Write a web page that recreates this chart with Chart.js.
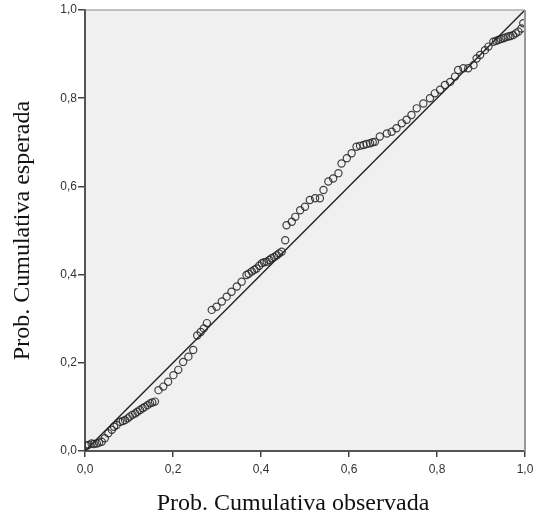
<!DOCTYPE html>
<html>
<head>
<meta charset="utf-8">
<script src="https://cdn.jsdelivr.net/npm/chart.js@4"></script>
<style>
  html, body { margin: 0; padding: 0; background: #fff; }
</style>
</head>
<body>
<canvas id="chart" width="542" height="520"></canvas>
<script>
// observed cumulative probability (x) and expected cumulative probability (y)
var observed = [
    0.004, 0.008, 0.015, 0.020, 0.027, 0.032, 0.038, 0.045, 0.053, 0.061,
    0.066, 0.072, 0.080, 0.086, 0.091, 0.097, 0.102, 0.108, 0.114, 0.119,
    0.125, 0.131, 0.136, 0.142, 0.148, 0.153, 0.159, 0.167, 0.178, 0.189,
    0.201, 0.212, 0.223, 0.235, 0.246, 0.255, 0.263, 0.270, 0.277, 0.288,
    0.299, 0.311, 0.322, 0.333, 0.345, 0.356, 0.367, 0.372, 0.379, 0.385,
    0.390, 0.396, 0.402, 0.407, 0.413, 0.419, 0.424, 0.430, 0.436, 0.441,
    0.447, 0.455, 0.458, 0.470, 0.478, 0.489, 0.500, 0.511, 0.523, 0.534,
    0.542, 0.553, 0.564, 0.576, 0.583, 0.595, 0.606, 0.617, 0.625, 0.633,
    0.640, 0.648, 0.654, 0.659, 0.670, 0.686, 0.697, 0.708, 0.720, 0.731,
    0.742, 0.754, 0.769, 0.784, 0.795, 0.807, 0.818, 0.830, 0.841, 0.848,
    0.860, 0.871, 0.883, 0.890, 0.898, 0.909, 0.917, 0.928, 0.934, 0.939,
    0.945, 0.951, 0.956, 0.962, 0.967, 0.973, 0.979, 0.985, 0.992, 0.996
];
var expected = [
    0.012, 0.014, 0.017, 0.016, 0.017, 0.019, 0.021, 0.029, 0.040, 0.048,
    0.055, 0.059, 0.066, 0.068, 0.070, 0.074, 0.078, 0.082, 0.085, 0.089,
    0.093, 0.097, 0.100, 0.104, 0.108, 0.110, 0.112, 0.138, 0.146, 0.157,
    0.172, 0.184, 0.202, 0.214, 0.229, 0.262, 0.270, 0.278, 0.290, 0.320,
    0.327, 0.339, 0.350, 0.361, 0.373, 0.384, 0.399, 0.402, 0.407, 0.411,
    0.414, 0.420, 0.426, 0.428, 0.429, 0.433, 0.437, 0.440, 0.444, 0.448,
    0.452, 0.478, 0.512, 0.520, 0.531, 0.546, 0.554, 0.569, 0.573, 0.573,
    0.592, 0.611, 0.618, 0.630, 0.652, 0.664, 0.675, 0.690, 0.692, 0.694,
    0.696, 0.698, 0.700, 0.701, 0.713, 0.720, 0.724, 0.732, 0.743, 0.751,
    0.762, 0.777, 0.788, 0.800, 0.811, 0.819, 0.830, 0.837, 0.849, 0.864,
    0.868, 0.868, 0.875, 0.890, 0.898, 0.909, 0.917, 0.928, 0.930, 0.932,
    0.934, 0.936, 0.938, 0.940, 0.941, 0.943, 0.947, 0.951, 0.958, 0.970
];
var refLine = [0, 1];
var tickValues = [0, 0.2, 0.4, 0.6, 0.8, 1.0];

var points = observed.map(function (x, i) {
    return { x: x, y: expected[i] };
});

function commaLabel(v) {
    return Number(v).toFixed(1).replace('.', ',');
}

// grey plot background plus top/right frame
var frame = {
    id: 'frame',
    beforeDraw: function (chart) {
        var a = chart.chartArea, ctx = chart.ctx;
        ctx.save();
        ctx.fillStyle = '#f0f0f0';
        ctx.fillRect(a.left, a.top, a.right - a.left, a.bottom - a.top);
        ctx.restore();
    },
    afterDraw: function (chart) {
        var a = chart.chartArea, ctx = chart.ctx;
        ctx.save();
        ctx.strokeStyle = '#888';
        ctx.lineWidth = 1.2;
        ctx.beginPath();
        ctx.moveTo(a.left, a.top);
        ctx.lineTo(a.right, a.top);
        ctx.stroke();
        ctx.strokeStyle = '#999';
        ctx.lineWidth = 2;
        ctx.beginPath();
        ctx.moveTo(a.right, a.top);
        ctx.lineTo(a.right, a.bottom);
        ctx.stroke();
        ctx.restore();
    }
};

var tickFont = { family: '"Liberation Sans", Arial, sans-serif', size: 12 };
var titleFont = { family: '"Liberation Serif", "Times New Roman", serif', size: 24 };

new Chart(document.getElementById('chart').getContext('2d'), {
    type: 'scatter',
    data: {
        datasets: [{
            label: 'observado',
            data: points,
            pointStyle: 'circle',
            pointRadius: 3.6,
            pointBorderWidth: 1.2,
            pointBorderColor: 'rgba(35,35,35,0.85)',
            pointBackgroundColor: 'rgba(0,0,0,0)',
            showLine: false,
            order: 1
        }, {
            label: 'referencia',
            type: 'line',
            data: refLine.map(function (v) { return { x: v, y: v }; }),
            borderColor: '#222',
            borderWidth: 1.4,
            pointRadius: 0,
            fill: false,
            order: 2
        }]
    },
    options: {
        responsive: false,
        animation: false,
        layout: { padding: { left: 4, top: 10, right: 17, bottom: 0 } },
        plugins: {
            legend: { display: false },
            tooltip: { enabled: false }
        },
        scales: {
            x: {
                type: 'linear',
                min: 0,
                max: 1,
                afterBuildTicks: function (s) { s.ticks = tickValues.map(function (v) { return { value: v }; }); },
                afterFit: function (s) { s.height = 69; },
                ticks: { callback: commaLabel, color: '#333', font: tickFont, padding: 5, maxRotation: 0 },
                grid: { drawOnChartArea: false, drawTicks: true, tickLength: 6, color: '#444', lineWidth: 1.5 },
                border: { display: true, color: '#555', width: 2 },
                title: {
                    display: true,
                    // trailing no-break spaces nudge the centred title a little left, as in the original
                    text: 'Prob. Cumulativa observada\u00a0\u00a0\u00a0\u00a0',
                    color: '#111',
                    font: titleFont,
                    padding: { top: 4, bottom: 2 }
                }
            },
            y: {
                type: 'linear',
                min: 0,
                max: 1,
                afterBuildTicks: function (s) { s.ticks = tickValues.map(function (v) { return { value: v }; }); },
                afterFit: function (s) { s.width = 81; },
                ticks: { callback: commaLabel, color: '#333', font: tickFont, padding: 1 },
                grid: { drawOnChartArea: false, drawTicks: true, tickLength: 7, color: '#444', lineWidth: 1.5 },
                border: { display: true, color: '#555', width: 2 },
                title: {
                    display: true,
                    text: 'Prob. Cumulativa esperada',
                    color: '#111',
                    font: titleFont,
                    padding: { top: 4, bottom: 4 }
                }
            }
        }
    },
    plugins: [frame]
});
</script>
</body>
</html>
